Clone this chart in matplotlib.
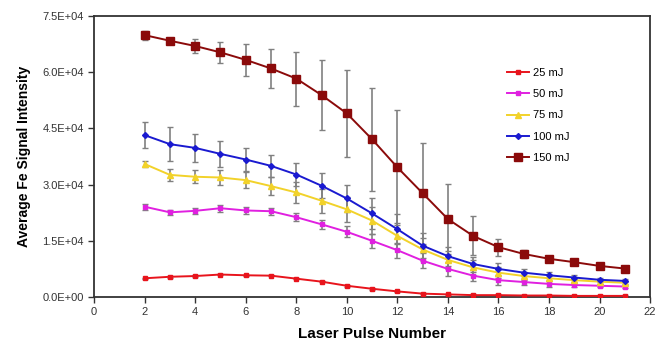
import matplotlib
matplotlib.use("Agg")
import matplotlib.pyplot as plt
import numpy as np

plt.rcParams['font.family'] = ['Liberation Sans', 'DejaVu Sans']

pulses = list(range(2, 22))

mj25 = [5.0, 5.4, 5.6, 6.0, 5.8, 5.7, 4.9, 4.1, 3.0, 2.2, 1.5, 0.9, 0.7, 0.5, 0.5, 0.4, 0.4, 0.3, 0.3, 0.3]
mj50 = [24.1, 22.6, 23.0, 23.7, 23.1, 22.9, 21.3, 19.4, 17.4, 15.0, 12.5, 9.7, 7.5, 5.7, 4.5, 4.0, 3.5, 3.2, 3.0, 2.8]
mj75 = [35.5, 32.6, 32.1, 31.9, 31.2, 29.6, 27.9, 25.7, 23.4, 20.4, 16.3, 12.7, 9.9, 7.9, 6.5, 5.6, 5.0, 4.5, 4.1, 3.8]
mj100 = [43.2, 40.8, 39.8, 38.2, 36.7, 35.0, 32.7, 29.7, 26.3, 22.3, 18.1, 13.7, 10.9, 8.8, 7.5, 6.5, 5.8, 5.2, 4.6, 4.3]
mj150 = [69.9, 68.4, 67.0, 65.3, 63.3, 61.0, 58.3, 53.9, 49.0, 42.1, 34.6, 27.7, 20.8, 16.3, 13.3, 11.5, 10.2, 9.3, 8.3, 7.6]

err25 = [0.2] * 20
err50 = [0.8, 0.7, 0.8, 0.9, 0.9, 0.9, 1.0, 1.2, 1.5, 1.8, 2.0, 2.0, 1.8, 1.5, 1.2, 0.9, 0.7, 0.5, 0.4, 0.3]
err75 = [0.9, 1.6, 1.8, 2.0, 2.2, 2.4, 2.8, 3.2, 3.4, 3.6, 3.4, 3.0, 2.5, 2.0, 1.5, 1.0, 0.8, 0.6, 0.5, 0.4]
err100 = [3.5, 4.5, 3.8, 3.4, 3.0, 3.0, 3.1, 3.3, 3.6, 4.2, 4.0, 3.4, 2.5, 2.0, 1.5, 1.0, 0.8, 0.6, 0.5, 0.4]
err150 = [1.2, 0.6, 1.9, 2.8, 4.3, 5.3, 7.2, 9.3, 11.6, 13.7, 15.4, 13.5, 9.3, 5.2, 2.3, 1.0, 0.5, 0.4, 0.3, 0.3]

labels = ['25 mJ', '50 mJ', '75 mJ', '100 mJ', '150 mJ']
series = [mj25, mj50, mj75, mj100, mj150]
errors = [err25, err50, err75, err100, err150]
colors = ['#E8141C', '#E020E0', '#F2D22A', '#1A1AD0', '#8B0A0A']
markers = ['s', 's', '^', 'D', 's']
msizes = [3.5, 3.5, 4, 3, 5.8]

xticks = list(range(0, 23, 2))
yticks = [0, 15000, 30000, 45000, 60000, 75000]
ytick_labels = ['0.0E+00', '1.5E+04', '3.0E+04', '4.5E+04', '6.0E+04', '7.5E+04']

fig = plt.figure(figsize=(6.58, 3.41), dpi=100)
ax = fig.add_axes([0.143, 0.129, 0.845, 0.824])

for vals, errs, lab, c, m, ms in zip(series, errors, labels, colors, markers, msizes):
    y = np.array(vals) * 1000
    e = np.array(errs) * 1000
    ax.errorbar(pulses, y, yerr=e, fmt='none', ecolor='#808080', elinewidth=1.2,
                capsize=2.5, capthick=1.0, zorder=2)
    ax.plot(pulses, y, color=c, marker=m, markersize=ms, linewidth=1.4,
            markeredgecolor=c, label=lab, zorder=3)

ax.set_xlim(0, 22)
ax.set_ylim(0, 75000)
ax.set_xticks(xticks)
ax.set_yticks(yticks)
ax.set_yticklabels(ytick_labels)
ax.tick_params(axis='both', labelsize=8, colors='#333333', length=4, width=1)
for s in ax.spines.values():
    s.set_linewidth(1.3)
    s.set_color('#333333')

ax.set_xlabel('Laser Pulse Number', fontsize=11, fontweight='bold', labelpad=7)
ax.set_ylabel('Average Fe Signal Intensity', fontsize=10, fontweight='bold', labelpad=8)

leg = ax.legend(loc='upper left', bbox_to_anchor=(0.735, 0.83), frameon=False,
                fontsize=8, handlelength=2.0, labelspacing=1.0, handletextpad=0.3,
                borderaxespad=0)

fig.savefig('out.png', dpi=100)
